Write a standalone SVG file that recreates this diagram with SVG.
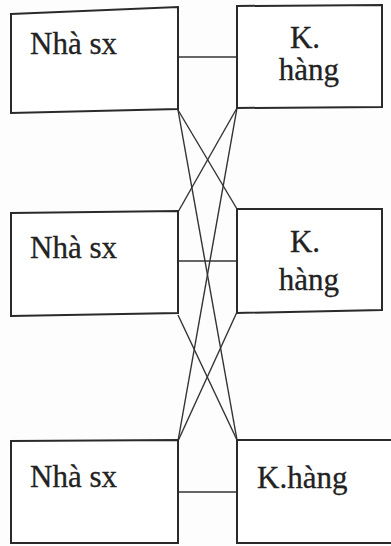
<svg xmlns="http://www.w3.org/2000/svg" width="391" height="546" viewBox="0 0 391 546">
<style>
.box{fill:#fff;stroke:#2a2a2a;stroke-width:2}
.ln{stroke:#333;stroke-width:1.4;fill:none}
.t{font-family:"Liberation Serif","Times New Roman",serif;font-size:31px;fill:#222;stroke:#222;stroke-width:0.3}
</style>
<rect width="391" height="546" fill="#fdfdfd"/>
<g id="connectors">
<line class="ln" x1="178" y1="57" x2="237" y2="57"/>
<line class="ln" x1="178" y1="261" x2="237" y2="261"/>
<line class="ln" x1="178" y1="492" x2="237" y2="492"/>
<line class="ln" x1="178" y1="110" x2="237" y2="209"/>
<line class="ln" x1="178" y1="110" x2="237" y2="440"/>
<line class="ln" x1="237" y1="108" x2="178" y2="212"/>
<line class="ln" x1="237" y1="108" x2="178" y2="441"/>
<line class="ln" x1="178" y1="315" x2="237" y2="440"/>
<line class="ln" x1="237" y1="312" x2="178" y2="441"/>
</g>
<g id="nha1">
<path class="box" d="M11,14 L178,7 L178,109 L11,113 Z"/>
<text class="t" x="30" y="54">Nhà sx</text>
</g>
<g id="khang1">
<path class="box" d="M237,6 L382,5 L382,107 L237,108 Z"/>
<text class="t" x="305" y="48" text-anchor="middle">K.</text>
<text class="t" x="309" y="80" text-anchor="middle">hàng</text>
</g>
<g id="nha2">
<path class="box" d="M11,213 L178,211 L178,313 L11,316 Z"/>
<text class="t" x="30" y="258">Nhà sx</text>
</g>
<g id="khang2">
<path class="box" d="M237,209 L382,209 L382,310 L237,313 Z"/>
<text class="t" x="305" y="252" text-anchor="middle">K.</text>
<text class="t" x="309" y="290" text-anchor="middle">hàng</text>
</g>
<g id="nha3">
<path class="box" d="M11,441 L178,440 L178,543 L11,543 Z"/>
<text class="t" x="30" y="487">Nhà sx</text>
</g>
<g id="khang3">
<path class="box" d="M237,440 L393,440 L393,543 L237,543 Z"/>
<text class="t" x="257" y="488">K.hàng</text>
</g>
</svg>
